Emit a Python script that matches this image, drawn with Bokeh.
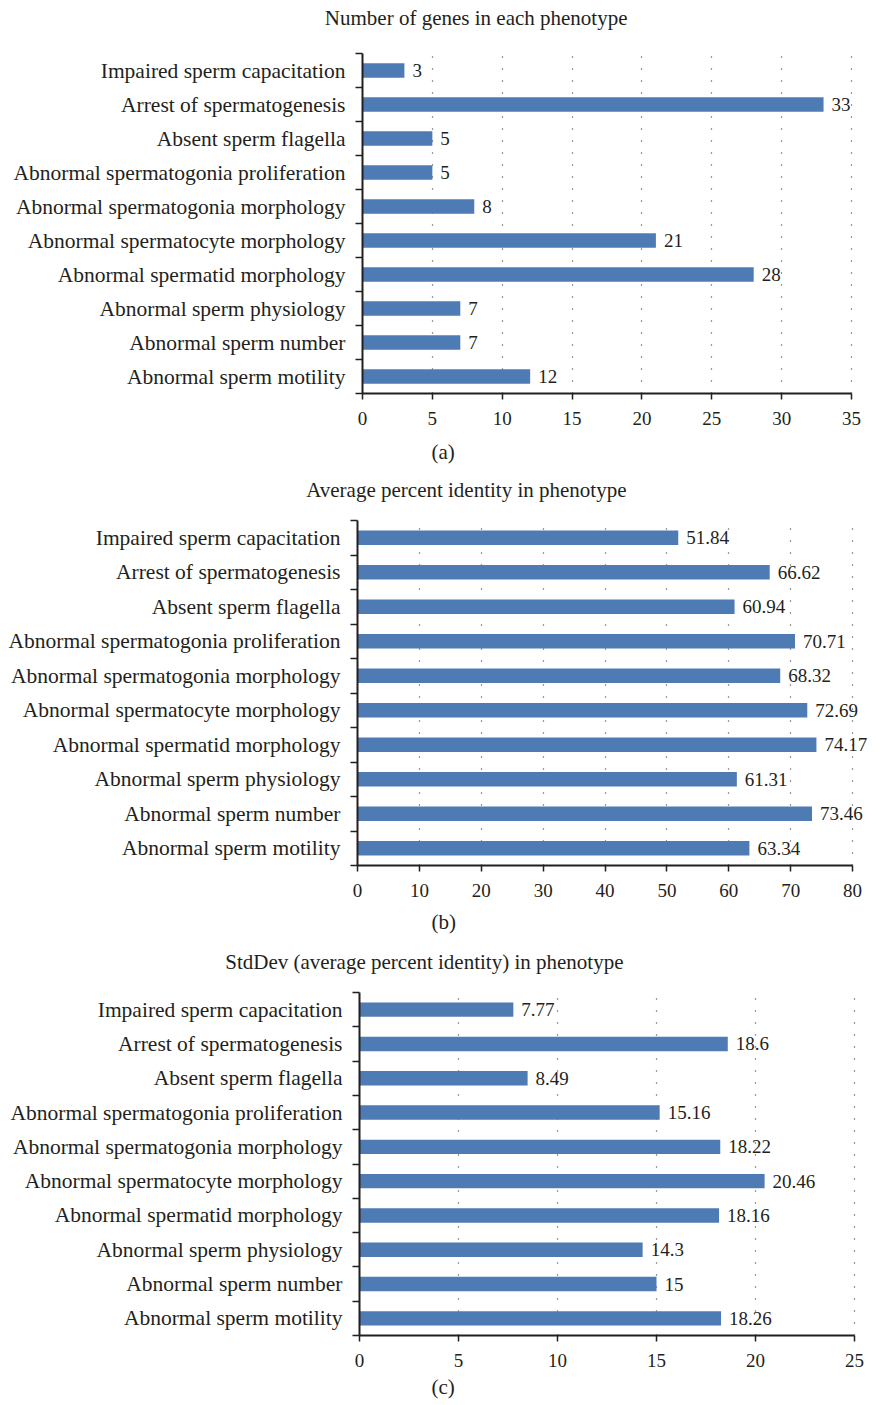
from bokeh.plotting import figure
from bokeh.layouts import column, row
from bokeh.models import (Range1d, FixedTicker, Title, LabelSet, ColumnDataSource)
from bokeh.embed import file_html
from bokeh.resources import INLINE

# Phenotype categories, listed top to bottom as they appear on each panel
categories = [
    "Impaired sperm capacitation",
    "Arrest of spermatogenesis",
    "Absent sperm flagella",
    "Abnormal spermatogonia proliferation",
    "Abnormal spermatogonia morphology",
    "Abnormal spermatocyte morphology",
    "Abnormal spermatid morphology",
    "Abnormal sperm physiology",
    "Abnormal sperm number",
    "Abnormal sperm motility",
]

gene_counts = [3, 33, 5, 5, 8, 21, 28, 7, 7, 12]
avg_identity = [51.84, 66.62, 60.94, 70.71, 68.32, 72.69, 74.17, 61.31, 73.46, 63.34]
std_identity = [7.77, 18.6, 8.49, 15.16, 18.22, 20.46, 18.16, 14.3, 15, 18.26]

titles = [
    "Number of genes in each phenotype",
    "Average percent identity in phenotype",
    "StdDev (average percent identity) in phenotype",
]
captions = ["(a)", "(b)", "(c)"]
x_max = [35, 80, 25]
x_step = [5, 10, 5]

FONT = "Liberation Serif"
INK = "#231f20"
BAR = "#4f7bb4"
W = 889


def panel(title, caption, values, xmax, step, height, left, axis_end, top, bottom,
          title_right, cap_left, gap_px, cap_standoff):
    n = len(categories)
    ys = [n - i for i in range(n)]
    # the frame runs to the right edge so value labels are not cut at the last tick;
    # the axis itself stops at xmax
    x_end = xmax * (W - left) / (axis_end - left)
    p = figure(width=W, height=height, output_backend="svg", toolbar_location=None,
               x_range=Range1d(0, x_end), y_range=Range1d(0.5, n + 0.5),
               min_border_left=left, min_border_right=0,
               min_border_top=top, min_border_bottom=bottom,
               title=None)
    p.outline_line_color = None
    p.background_fill_color = "white"

    src = ColumnDataSource(dict(y=ys, v=values, lab=[f"{v:g}" for v in values]))
    p.hbar(y="y", left=0, right="v", height=0.42, source=src,
           fill_color=BAR, line_color=None)
    p.add_layout(LabelSet(x="v", y="y", text="lab", source=src, x_offset=8,
                          text_baseline="middle", text_font=FONT,
                          text_font_size="19px", text_color=INK))

    # x axis
    xa = p.xaxis[0]
    xa.bounds = (0, xmax)
    xa.ticker = FixedTicker(ticks=list(range(0, xmax + 1, step)), minor_ticks=[])
    xa.axis_line_width = 2
    xa.axis_line_color = INK
    xa.major_tick_line_color = INK
    xa.major_tick_line_width = 1.5
    xa.major_tick_out = 6
    xa.major_tick_in = 0
    xa.major_label_text_font = FONT
    xa.major_label_text_font_size = "19px"
    xa.major_label_text_color = INK
    xa.major_label_standoff = 12

    # y axis: labels at category centres, ticks on category boundaries
    ya = p.yaxis[0]
    ya.ticker = FixedTicker(ticks=ys, minor_ticks=[k + 0.5 for k in range(n + 1)])
    ya.major_label_overrides = {y: c for y, c in zip(ys, categories)}
    ya.axis_line_width = 2
    ya.axis_line_color = INK
    ya.major_tick_line_color = None
    ya.major_tick_out = 0
    ya.major_tick_in = 0
    ya.minor_tick_line_color = INK
    ya.minor_tick_line_width = 1.5
    ya.minor_tick_out = 7
    ya.minor_tick_in = 0
    ya.major_label_text_font = FONT
    ya.major_label_text_font_size = "21.5px"
    ya.major_label_text_color = INK
    ya.major_label_standoff = 10

    p.ygrid.grid_line_color = None
    p.xgrid.grid_line_color = "#333333"
    p.xgrid.grid_line_width = 1.2
    p.xgrid.grid_line_dash = "1 11"

    # empty gap between the frame and the chart title
    p.add_layout(Title(text=" ", text_font=FONT, text_font_size=f"{gap_px}px",
                       standoff=0), "above")
    p.add_layout(Title(text=title, align="right", offset=W - title_right,
                       vertical_align="top", text_font=FONT, text_font_size="21px",
                       text_font_style="normal", text_color=INK, standoff=0), "above")
    p.add_layout(Title(text=caption, align="left", offset=cap_left - left,
                       vertical_align="top", text_font=FONT, text_font_size="21px",
                       text_font_style="normal", text_color=INK,
                       standoff=cap_standoff), "below")
    return p


fa = panel(titles[0], captions[0], gene_counts, x_max[0], x_step[0],
           477, 362, 851, 53, 84, 627, 431, 18, 24)
fb = panel(titles[1], captions[1], avg_identity, x_max[1], x_step[1],
           469, 357, 852, 43, 81, 626, 431, 14, 20)
fc = panel(titles[2], captions[2], std_identity, x_max[2], x_step[2],
           459, 359, 854, 46, 69, 623, 431, 14, 10)

layout = column(row(fa), row(fb), row(fc), spacing=0)
open("out.html", "w").write(file_html(layout, INLINE))
